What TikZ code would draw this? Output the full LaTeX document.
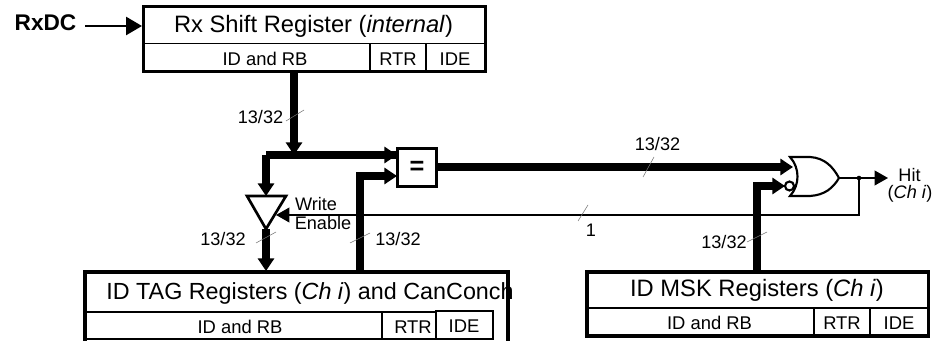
\documentclass[tikz,border=0pt]{standalone}
\usepackage{fontspec}
\setmainfont{Liberation Sans}
\usetikzlibrary{arrows.meta}
\tikzset{
  px/.style={x=0.75pt,y=-0.75pt},
  frame/.style={draw=black,line width=2.3pt,fill=white},
  divider/.style={draw=black,line width=1.2pt},
  bus/.style={draw=black,line width=5.9pt},
  busarrow/.style={draw=black,line width=5.9pt,-{Triangle[length=9.5pt,width=12pt]}},
  wire/.style={draw=black,line width=1.3pt},
  wirearrow/.style={draw=black,line width=1.3pt,-{Triangle[length=10pt,width=11pt]}},
  inarrow/.style={draw=black,line width=2pt,-{Triangle[length=12pt,width=13.5pt]}},
  tick/.style={draw=black!55,line width=0.4pt},
  lab/.style={inner sep=0pt,font=\fontsize{13.6}{16}\selectfont},
  title/.style={inner sep=0pt,font=\fontsize{17.8}{20}\selectfont},
  tagtitle/.style={inner sep=0pt,font=\fontsize{17.5}{20}\selectfont},
  field/.style={inner sep=0pt,font=\fontsize{13.8}{16}\selectfont},
  pt/.style={inner sep=0pt,minimum size=0pt,outer sep=0pt}
}
\begin{document}
\begin{tikzpicture}[px]
\useasboundingbox (0,0) rectangle (944,341);
% coordinates
\coordinate (rxin) at (85,26);
\coordinate (rxport) at (142,26);
\coordinate (rxout) at (294,71);
\coordinate (junct) at (294,155);
\coordinate (cornerA) at (266,155);
\coordinate (eqinA) at (397,155);
\coordinate (bufin) at (266,196);
\coordinate (bufout) at (266,229);
\coordinate (tagin) at (266,271);
\coordinate (tagout) at (360,272);
\coordinate (cornerB) at (360,176);
\coordinate (eqinB) at (397,176);
\coordinate (eqout) at (437,167);
\coordinate (orinA) at (793,167);
\coordinate (mskout) at (757,272);
\coordinate (cornerC) at (757,186);
\coordinate (orinB) at (785,186);
\coordinate (orout) at (839,178);
\coordinate (tap) at (859,178);
\coordinate (hit) at (888,178);
\coordinate (back) at (859,215);
\coordinate (enable) at (276,215);
% boxes
\node[frame,pt,anchor=north west,minimum width=256.5pt,minimum height=48.75pt] (rx) at (143.5,6.5) {};
\draw[divider] (143.5,43.5) -- (485.5,43.5);
\draw[divider] (370,43.5) -- (370,71.5);
\draw[divider] (426,43.5) -- (426,71.5);
\node[title] (rxt) at (313.5,26) {Rx Shift Register (\textit{internal})};
\node[field] (rxf1) at (265,59) {ID and RB};
\node[field] (rxf2) at (398,59) {RTR};
\node[field] (rxf3) at (455,59) {IDE};

\draw[frame,fill=none] (85,341) -- (85,272) -- (508,272) -- (508,341);
\node[frame,pt,anchor=north west,minimum width=256pt,minimum height=48pt] (msk) at (587,272) {};
\draw[divider] (587,308) -- (928,308);
\draw[divider] (814,308) -- (814,336);
\draw[divider] (870,308) -- (870,336);
\node[title] (mskt) at (757,290) {ID MSK Registers (\textit{Ch i})};
\node[field] (mskf1) at (709.5,323) {ID and RB};
\node[field] (mskf2) at (842,323) {RTR};
\node[field] (mskf3) at (899,323) {IDE};
\draw[draw=black,line width=1.7pt] (85,312) rectangle (436,339);
\draw[divider] (382,312) -- (382,339);
\draw[draw=black,line width=1.7pt] (436,311) rectangle (493,339);
\node[tagtitle] (tagt) at (310,293) {ID TAG Registers (\textit{Ch i}) and CanConch};
\node[field] (tagf1) at (240,327) {ID and RB};
\node[field] (tagf2) at (413,327) {RTR};
\node[field] (tagf3) at (464,326) {IDE};

% equal box
\node[frame,pt,minimum width=29pt,minimum height=28pt,font=\bfseries\fontsize{19}{22}\selectfont] (eq) at (417,167.5) {=};

% buses
\draw[inarrow] (rxin) -- (rxport);
\draw[busarrow] (rxout) -- (junct);
\draw[bus] (cornerA) -- (eqinA|-cornerA) ;
\draw[busarrow] (junct) -- (eqinA);
\draw[busarrow,line join=miter] (cornerA) -- (bufin);
\draw[busarrow] (bufout) -- (tagin);
\draw[busarrow] (tagout) -- (cornerB) -- (eqinB);
\draw[busarrow] (eqout) -- (orinA);
\draw[busarrow] (mskout) -- (cornerC) -- (orinB);
% buffer
\draw[draw=black,line width=2pt,fill=white,line join=miter] (247,196) -- (286,196) -- (266,229) -- cycle;
% OR gate
\draw[draw=black,line width=1.6pt,fill=white] (790,157) -- (810,157) .. controls (825,158) and (833,167) .. (839,178)
  .. controls (833,188) and (825,195) .. (810,196) -- (790,196) .. controls (800,185) and (800,168) .. (790,157) -- cycle;
\draw[draw=black,line width=1.6pt,fill=white] (789.5,186) circle (4.5);
% feedback
\draw[wire] (orout) -- (tap);
\draw[wirearrow] (tap) -- (hit);
\fill (tap) circle (2.3);
\draw[wirearrow] (tap) -- (back) -- (enable);
% ticks
\draw[tick] (286,121) -- (304,110);
\draw[tick] (256,243) -- (276,232);
\draw[tick] (350,243) -- (370,233);
\draw[tick] (643,177) -- (654,157);
\draw[tick] (578,221) -- (588,205);
\draw[tick] (747,242) -- (767,232);
% labels
\node[font=\bfseries\fontsize{17}{20}\selectfont,inner sep=0pt] (rxdc) at (45.5,23) {RxDC};
\node[lab] (l1) at (260.5,117) {13/32};
\node[lab] (l2) at (223,239) {13/32};
\node[lab] (l3) at (398,239) {13/32};
\node[lab] (l4) at (657.5,144) {13/32};
\node[lab] (l5) at (591,230) {1};
\node[lab] (l6) at (724,242) {13/32};
\node[lab] (we1) at (316,204) {Write};
\node[lab] (we2) at (323,223) {Enable};
\node[lab] (hit1) at (909.5,175) {Hit};
\node[lab] (hit2) at (910,194) {(\textit{Ch i})};
\end{tikzpicture}
\end{document}
